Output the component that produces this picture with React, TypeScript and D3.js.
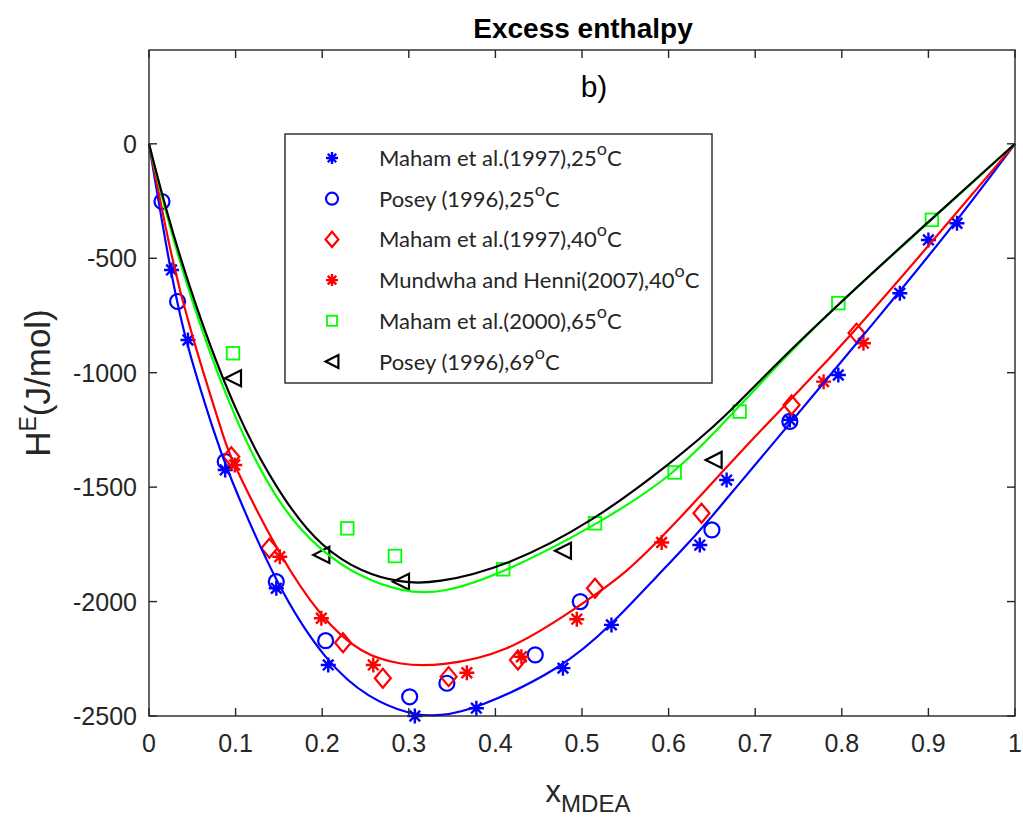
import * as d3 from 'd3'

const WIDTH = 1023
const HEIGHT = 821
const PLOT = { left: 149, right: 1015, top: 50, bottom: 716 }

const X_TICKS = [0, 0.1, 0.2, 0.3, 0.4, 0.5, 0.6, 0.7, 0.8, 0.9, 1]
const Y_TICKS = [0, -500, -1000, -1500, -2000, -2500]

// measured points [x, H^E]
const maham1997_25 = [
  [0.026, -551], [0.045, -857], [0.088, -1425], [0.147, -1942], [0.207, -2277],
  [0.307, -2500], [0.378, -2466], [0.478, -2291], [0.534, -2102], [0.636, -1753],
  [0.667, -1469], [0.740, -1206], [0.796, -1010], [0.867, -653], [0.900, -420],
  [0.933, -347]
]
const posey1996_25 = [
  [0.015, -252], [0.033, -689], [0.088, -1388], [0.147, -1913], [0.204, -2171],
  [0.301, -2416], [0.344, -2357], [0.446, -2233], [0.498, -2000], [0.650, -1687],
  [0.740, -1213]
]
const maham1997_40 = [
  [0.095, -1367], [0.139, -1767], [0.224, -2180], [0.270, -2335], [0.346, -2328],
  [0.426, -2255], [0.515, -1942], [0.638, -1614], [0.742, -1141], [0.817, -827]
]
const mundhwa2007_40 = [
  [0.099, -1403], [0.151, -1804], [0.199, -2073], [0.259, -2277], [0.367, -2311],
  [0.430, -2241], [0.494, -2077], [0.592, -1742], [0.779, -1039], [0.825, -871]
]
const maham2000_65 = [
  [0.097, -915], [0.229, -1680], [0.284, -1801], [0.409, -1859], [0.515, -1658],
  [0.607, -1436], [0.682, -1170], [0.796, -696], [0.904, -332]
]
const posey1996_69 = [
  [0.097, -1024], [0.199, -1796], [0.291, -1913], [0.478, -1778], [0.652, -1381]
]

// fitted curves
const fit25 = [
  [0, 0], [0.022, -500], [0.041, -857], [0.078, -1294], [0.087, -1396], [0.147, -1935],
  [0.207, -2277], [0.253, -2420], [0.301, -2495], [0.336, -2502], [0.378, -2470],
  [0.478, -2291], [0.534, -2102], [0.586, -1891], [0.636, -1694], [0.682, -1482],
  [0.729, -1272], [0.790, -995], [0.867, -645], [0.933, -337], [1, 0]
]
const fit40 = [
  [0, 0], [0.026, -500], [0.045, -784], [0.087, -1294], [0.095, -1380], [0.151, -1804],
  [0.199, -2073], [0.245, -2230], [0.291, -2278], [0.336, -2282], [0.413, -2226],
  [0.490, -2037], [0.552, -1876], [0.605, -1668], [0.659, -1447], [0.694, -1300],
  [0.752, -1075], [0.817, -810], [0.906, -420], [1, 0]
]
const fit65 = [
  [0, 0], [0.032, -500], [0.097, -1206], [0.153, -1600], [0.199, -1782], [0.245, -1895],
  [0.291, -1955], [0.336, -1970], [0.413, -1869], [0.513, -1673], [0.605, -1454],
  [0.667, -1206], [0.736, -925], [0.798, -690], [0.906, -325], [1, 0]
]
const fit69 = [
  [0, 0], [0.034, -500], [0.101, -1206], [0.160, -1585], [0.199, -1760], [0.245, -1872],
  [0.291, -1918], [0.330, -1922], [0.413, -1847], [0.513, -1651], [0.602, -1396],
  [0.663, -1206], [0.736, -910], [0.906, -318], [1, 0]
]

const LEGEND = [
  { label: 'Maham et al.(1997),25', marker: 'star', color: '#0000ff' },
  { label: 'Posey (1996),25', marker: 'circle', color: '#0000ff' },
  { label: 'Maham et al.(1997),40', marker: 'diamond', color: '#ff0000' },
  { label: 'Mundwha and Henni(2007),40', marker: 'star', color: '#ff0000' },
  { label: 'Maham et al.(2000),65', marker: 'square', color: '#00ff00' },
  { label: 'Posey (1996),69', marker: 'triangle', color: '#000000' }
]

const AXIS_COLOR = '#262626'

function Marker({ type, x, y, color, s = 1 }: { type: string; x: number; y: number; color: string; s?: number }) {
  if (type === 'star') {
    const r = 7.5 * s
    const d = r * 0.7071
    return (
      <path
        d={`M${x - r},${y}L${x + r},${y}M${x},${y - r}L${x},${y + r}M${x - d},${y - d}L${x + d},${y + d}M${x - d},${y + d}L${x + d},${y - d}`}
        stroke={color}
        strokeWidth={2.4}
        fill="none"
      />
    )
  }
  if (type === 'circle') {
    return <circle cx={x} cy={y} r={7.5 * s} stroke={color} strokeWidth={2.2} fill="none" />
  }
  if (type === 'diamond') {
    const w = 8 * s
    const h = 9.5 * s
    return (
      <path
        d={`M${x},${y - h}L${x + w},${y}L${x},${y + h}L${x - w},${y}Z`}
        stroke={color}
        strokeWidth={2.2}
        fill="none"
      />
    )
  }
  if (type === 'square') {
    const h = 6.3 * s
    return <rect x={x - h} y={y - h} width={2 * h} height={2 * h} stroke={color} strokeWidth={1.8} fill="none" />
  }
  // left-pointing triangle
  const h = 8 * s
  return (
    <path
      d={`M${x - h},${y}L${x + h},${y - h}L${x + h},${y + h}Z`}
      stroke={color}
      strokeWidth={2.2}
      fill="none"
    />
  )
}

export default function App() {
  const x = d3.scaleLinear().domain([0, 1]).range([PLOT.left, PLOT.right])
  const y = d3.scaleLinear().domain([-2500, 410]).range([PLOT.bottom, PLOT.top])

  const line = d3.line<number[]>()
    .x(d => x(d[0]))
    .y(d => y(d[1]))
    .curve(d3.curveBasis)

  const series = [
    { data: maham1997_25, marker: 'star', color: '#0000ff' },
    { data: posey1996_25, marker: 'circle', color: '#0000ff' },
    { data: maham1997_40, marker: 'diamond', color: '#ff0000' },
    { data: mundhwa2007_40, marker: 'star', color: '#ff0000' },
    { data: maham2000_65, marker: 'square', color: '#00ff00' },
    { data: posey1996_69, marker: 'triangle', color: '#000000' }
  ]

  const fits = [
    { data: fit25, color: '#0000ff' },
    { data: fit40, color: '#ff0000' },
    { data: fit65, color: '#00ff00' },
    { data: fit69, color: '#000000' }
  ]

  const tickFont = '"Liberation Sans", Arial, sans-serif'
  const legendFont = 'Lato, "Open Sans", sans-serif'
  const legend = { left: 285, top: 134, width: 427, height: 249, row: 40.7 }

  return (
    <svg width={WIDTH} height={HEIGHT} style={{ position: 'absolute', left: 0, top: 0, background: '#fff' }}>
      <rect width={WIDTH} height={HEIGHT} fill="#fff" />

      {/* Title */}
      <text x={583} y={38} textAnchor="middle" fontFamily={tickFont} fontWeight="bold" fontSize={28} fill="#000">
        Excess enthalpy
      </text>

      {/* markers */}
      {series.map((s, i) => (
        <g key={i}>
          {s.data.map((d, j) => (
            <Marker key={j} type={s.marker} x={x(d[0])} y={y(d[1])} color={s.color} />
          ))}
        </g>
      ))}

      {/* fitted lines */}
      {fits.map((f, i) => (
        <path key={i} d={line(f.data) || ''} fill="none" stroke={f.color} strokeWidth={2.2} />
      ))}

      {/* axes box */}
      <rect
        x={PLOT.left}
        y={PLOT.top}
        width={PLOT.right - PLOT.left}
        height={PLOT.bottom - PLOT.top}
        fill="none"
        stroke={AXIS_COLOR}
        strokeWidth={1.4}
      />
      {X_TICKS.map(t => (
        <g key={t}>
          <line x1={x(t)} x2={x(t)} y1={PLOT.bottom} y2={PLOT.bottom - 8} stroke={AXIS_COLOR} strokeWidth={1.4} />
          <line x1={x(t)} x2={x(t)} y1={PLOT.top} y2={PLOT.top + 8} stroke={AXIS_COLOR} strokeWidth={1.4} />
          <text x={x(t)} y={PLOT.bottom + 36} textAnchor="middle" fontFamily={tickFont} fontSize={25} fill={AXIS_COLOR}>
            {t}
          </text>
        </g>
      ))}
      {Y_TICKS.map(t => (
        <g key={t}>
          <line x1={PLOT.left} x2={PLOT.left + 8} y1={y(t)} y2={y(t)} stroke={AXIS_COLOR} strokeWidth={1.4} />
          <line x1={PLOT.right} x2={PLOT.right - 8} y1={y(t)} y2={y(t)} stroke={AXIS_COLOR} strokeWidth={1.4} />
          <text x={PLOT.left - 12} y={y(t) + 9} textAnchor="end" fontFamily={tickFont} fontSize={25} fill={AXIS_COLOR}>
            {t}
          </text>
        </g>
      ))}

      {/* panel label */}
      <text x={594} y={97} textAnchor="middle" fontFamily={tickFont} fontSize={30} fill="#000">
        b)
      </text>

      {/* axis labels */}
      <text x={588} y={802} textAnchor="middle" fontFamily={tickFont} fontSize={31} fill={AXIS_COLOR}>
        x<tspan fontSize={24} dy={10}>MDEA</tspan>
      </text>
      <text
        transform={`translate(50, ${(PLOT.top + PLOT.bottom) / 2}) rotate(-90)`}
        textAnchor="middle"
        fontFamily={tickFont}
        fontSize={35}
        fill={AXIS_COLOR}
      >
        H<tspan fontSize={23} dy={-14}>E</tspan><tspan dy={14}>(J/mol)</tspan>
      </text>

      {/* legend */}
      <rect x={legend.left} y={legend.top} width={legend.width} height={legend.height} fill="#fff" stroke={AXIS_COLOR} strokeWidth={1.4} />
      {LEGEND.map((l, i) => {
        const cy = legend.top + 24 + i * legend.row
        return (
          <g key={l.label}>
            <Marker type={l.marker} x={legend.left + 47} y={cy} color={l.color} s={0.8} />
            <text x={legend.left + 94} y={cy + 8} fontFamily={legendFont} fontSize={22} fill="#262626">
              {l.label}
              <tspan fontSize={18} dy={-11}>o</tspan>
              <tspan dy={11}>C</tspan>
            </text>
          </g>
        )
      })}
    </svg>
  )
}
